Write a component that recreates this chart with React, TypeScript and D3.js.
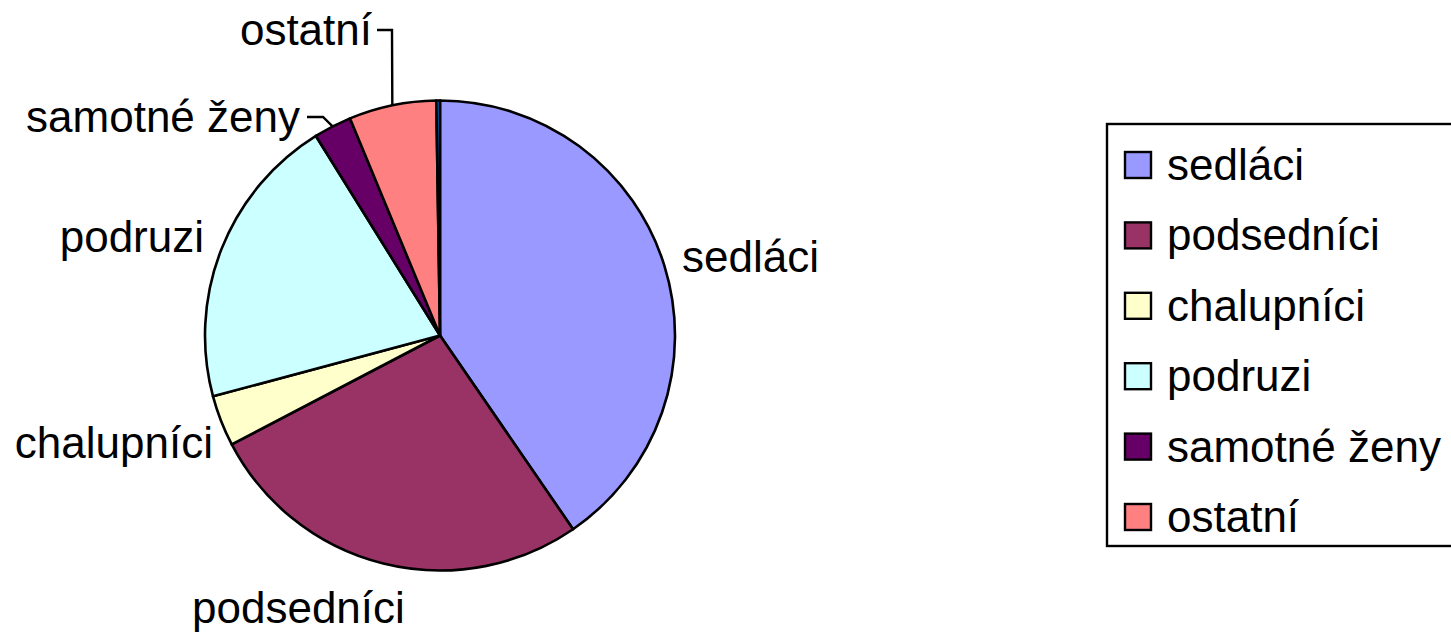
import { useEffect, useRef } from "react";
import * as d3 from "d3";

const categories = ["sedláci", "podsedníci", "chalupníci", "podruzi", "samotné ženy", "ostatní", ""];
const values = [40.4, 26.9, 3.5, 20.3, 2.6, 6.0, 0.25];
const colors = ["#9999FF", "#993366", "#FFFFCC", "#CCFFFF", "#660066", "#FF8080", "#0066CC"];
const legendNames = ["sedláci", "podsedníci", "chalupníci", "podruzi", "samotné ženy", "ostatní"];

const App = () => {
    const svgRef = useRef<SVGSVGElement>(null);
    const width = 1451;
    const height = 633;

    useEffect(() => {
        const svg = d3.select(svgRef.current);
        svg.selectAll("*").remove();

        const cx = 440, cy = 335.5, r = 235;
        const font = "'Liberation Sans', Arial, sans-serif";

        const data = categories.map((c, i) => ({ name: c, value: values[i], color: colors[i] }));
        const pie = d3.pie<any>().value(d => d.value).sort(null);
        const arc = d3.arc<any>().innerRadius(0).outerRadius(r);
        const arcs = pie(data);

        const g = svg.append("g").attr("transform", `translate(${cx},${cy})`);
        g.selectAll("path")
            .data(arcs)
            .enter()
            .append("path")
            .attr("d", arc)
            .attr("fill", d => d.data.color)
            .attr("stroke", "#000")
            .attr("stroke-width", 2.6)
            .attr("stroke-linejoin", "round");

        // slice labels (placed like the original, leader lines for the small ones)
        const labelPos: Record<string, { x: number; y: number; anchor: string }> = {
            "sedláci": { x: 682, y: 272, anchor: "start" },
            "podsedníci": { x: 192, y: 623, anchor: "start" },
            "chalupníci": { x: 213, y: 458, anchor: "end" },
            "podruzi": { x: 204, y: 252, anchor: "end" },
            "samotné ženy": { x: 300, y: 132, anchor: "end" },
            "ostatní": { x: 372, y: 45, anchor: "end" },
        };
        legendNames.forEach(n => {
            const p = labelPos[n];
            svg.append("text")
                .attr("x", p.x)
                .attr("y", p.y)
                .attr("text-anchor", p.anchor)
                .attr("font-family", font)
                .attr("font-size", 44)
                .attr("fill", "#000")
                .text(n);
        });

        // leader lines
        const leader = (name: string, pts: [number, number][]) => {
            const a = arcs.find(d => d.data.name === name)!;
            const mid = (a.startAngle + a.endAngle) / 2;
            const end: [number, number] = [cx + r * Math.sin(mid), cy - r * Math.cos(mid)];
            svg.append("path")
                .attr("d", d3.line()([...pts, end]))
                .attr("fill", "none")
                .attr("stroke", "#000")
                .attr("stroke-width", 2.4);
        };
        leader("ostatní", [[377, 30], [392, 30]]);
        leader("samotné ženy", [[307, 117], [323, 117]]);

        // legend
        const lx = 1107, ly = 124, lh = 422;
        svg.append("rect")
            .attr("x", lx)
            .attr("y", ly)
            .attr("width", width - lx + 10)
            .attr("height", lh)
            .attr("fill", "#fff")
            .attr("stroke", "#000")
            .attr("stroke-width", 2.4);

        const rowY = d3.scalePoint<string>().domain(legendNames).range([165, 517]);
        legendNames.forEach((n, i) => {
            const y = rowY(n)!;
            svg.append("rect")
                .attr("x", 1125)
                .attr("y", y - 13)
                .attr("width", 26)
                .attr("height", 26)
                .attr("fill", colors[i])
                .attr("stroke", "#000")
                .attr("stroke-width", 2.4);
            svg.append("text")
                .attr("x", 1167)
                .attr("y", y + 15)
                .attr("font-family", font)
                .attr("font-size", 44)
                .attr("fill", "#000")
                .text(n);
        });
    }, []);

    return (
        <svg
            ref={svgRef}
            width={width}
            height={height}
            style={{ position: "absolute", left: 0, top: 0, display: "block", background: "#fff" }}
        ></svg>
    );
};

export default App;
